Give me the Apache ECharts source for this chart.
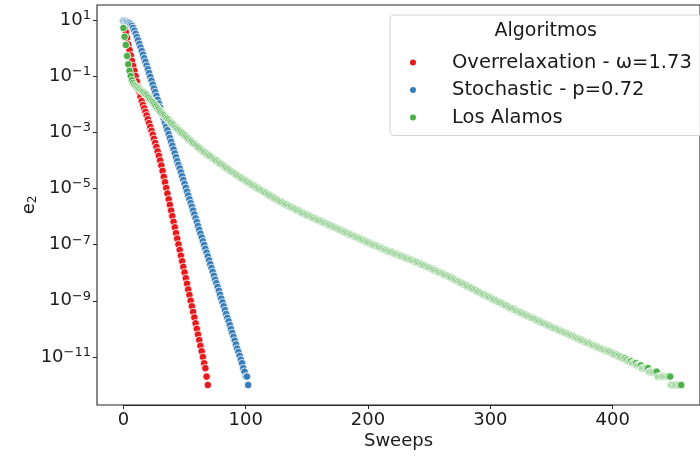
<!DOCTYPE html>
<html><head><meta charset="utf-8">
<script src="https://cdn.jsdelivr.net/npm/echarts@6/dist/echarts.min.js"></script>
<style>html,body{margin:0;padding:0;background:#fff}#c{width:700px;height:457px}</style>
</head><body><div id="c"></div>
<script>
// x: sweep index (0-based); y: log10(e2)
const seriesNames = ['Overrelaxation - ω=1.73', 'Stochastic - p=0.72', 'Los Alamos'];
const seriesColors = ['#e41a1c', '#377eb8', '#4daf4a'];
const legendTitle = 'Algoritmos';
const xAxisTitle = 'Sweeps';
const xTickMin = 0, xTickMax = 400, xTickStep = 100;
const yTickMinExp = -11, yTickMaxExp = 1, yTickStepExp = 2;
const yViewMinExp = -12.711, yViewMaxExp = 1.534;

const overrelaxationLog10E2 = [
0.962,0.736,0.570,0.355,0.129,-0.067,-0.262,-0.458,-0.634,-0.811,
-0.997,-1.193,-1.389,-1.555,-1.731,-1.888,-2.025,-2.143,-2.270,-2.397,
-2.535,-2.672,-2.809,-2.946,-3.083,-3.230,-3.377,-3.524,-3.680,-3.837,
-4.003,-4.180,-4.375,-4.581,-4.777,-4.983,-5.179,-5.384,-5.580,-5.786,
-5.982,-6.187,-6.383,-6.589,-6.785,-6.990,-7.186,-7.392,-7.588,-7.793,
-7.989,-8.195,-8.391,-8.596,-8.792,-8.998,-9.194,-9.399,-9.595,-9.801,
-9.997,-10.203,-10.398,-10.604,-10.796,-11.000,-11.222,-11.398,-11.699,-12.000];

const stochasticLog10E2 = [
0.962,0.962,0.952,0.932,0.913,0.883,0.844,0.795,0.717,0.619,
0.511,0.394,0.276,0.149,0.022,-0.106,-0.233,-0.360,-0.488,-0.625,
-0.752,-0.889,-1.026,-1.163,-1.301,-1.438,-1.565,-1.702,-1.839,-1.976,
-2.113,-2.250,-2.388,-2.525,-2.662,-2.799,-2.926,-3.063,-3.200,-3.337,
-3.475,-3.612,-3.749,-3.886,-4.023,-4.160,-4.287,-4.424,-4.562,-4.699,
-4.836,-4.973,-5.110,-5.247,-5.384,-5.521,-5.649,-5.786,-5.923,-6.060,
-6.197,-6.334,-6.471,-6.609,-6.746,-6.883,-7.010,-7.147,-7.284,-7.421,
-7.558,-7.695,-7.832,-7.970,-8.107,-8.244,-8.371,-8.508,-8.645,-8.782,
-8.919,-9.057,-9.194,-9.331,-9.468,-9.605,-9.732,-9.869,-10.006,-10.144,
-10.281,-10.418,-10.553,-10.699,-10.824,-10.959,-11.097,-11.222,-11.398,-11.523,
-11.699,-11.699,-12.000];

const losAlamosLog10E2 = [
0.717,0.403,0.110,-0.282,-0.576,-0.811,-0.997,-1.144,-1.242,-1.310,
-1.359,-1.398,-1.438,-1.467,-1.506,-1.536,-1.565,-1.604,-1.643,-1.682,
-1.731,-1.780,-1.829,-1.878,-1.927,-1.976,-2.035,-2.084,-2.143,-2.192,
-2.250,-2.299,-2.348,-2.388,-2.437,-2.486,-2.525,-2.574,-2.623,-2.662,
-2.711,-2.750,-2.799,-2.838,-2.877,-2.916,-2.956,-2.995,-3.034,-3.073,
-3.112,-3.151,-3.191,-3.230,-3.269,-3.308,-3.337,-3.377,-3.416,-3.455,
-3.484,-3.523,-3.563,-3.602,-3.631,-3.670,-3.700,-3.729,-3.768,-3.798,
-3.827,-3.856,-3.886,-3.925,-3.954,-3.984,-4.013,-4.042,-4.082,-4.111,
-4.140,-4.170,-4.199,-4.229,-4.268,-4.297,-4.327,-4.356,-4.385,-4.415,
-4.444,-4.473,-4.503,-4.532,-4.561,-4.591,-4.620,-4.649,-4.679,-4.698,
-4.728,-4.757,-4.786,-4.806,-4.835,-4.865,-4.894,-4.914,-4.943,-4.973,
-4.992,-5.022,-5.051,-5.071,-5.100,-5.129,-5.149,-5.178,-5.208,-5.227,
-5.257,-5.286,-5.306,-5.335,-5.355,-5.384,-5.404,-5.433,-5.453,-5.482,
-5.502,-5.531,-5.551,-5.570,-5.600,-5.619,-5.639,-5.659,-5.688,-5.708,
-5.727,-5.747,-5.776,-5.796,-5.815,-5.835,-5.864,-5.884,-5.904,-5.923,
-5.943,-5.962,-5.982,-6.001,-6.021,-6.041,-6.060,-6.080,-6.099,-6.119,
-6.138,-6.158,-6.178,-6.197,-6.217,-6.236,-6.256,-6.275,-6.295,-6.315,
-6.334,-6.354,-6.373,-6.393,-6.412,-6.432,-6.452,-6.471,-6.491,-6.510,
-6.530,-6.549,-6.569,-6.589,-6.608,-6.628,-6.647,-6.667,-6.687,-6.706,
-6.726,-6.745,-6.765,-6.785,-6.804,-6.824,-6.843,-6.863,-6.883,-6.902,
-6.922,-6.941,-6.961,-6.980,-7.000,-7.010,-7.030,-7.049,-7.069,-7.088,
-7.108,-7.127,-7.147,-7.167,-7.186,-7.196,-7.216,-7.235,-7.255,-7.265,
-7.284,-7.304,-7.323,-7.333,-7.353,-7.372,-7.392,-7.402,-7.421,-7.441,
-7.460,-7.470,-7.490,-7.509,-7.529,-7.539,-7.558,-7.578,-7.598,-7.607,
-7.627,-7.646,-7.666,-7.686,-7.705,-7.725,-7.744,-7.764,-7.784,-7.803,
-7.823,-7.842,-7.862,-7.881,-7.901,-7.921,-7.940,-7.960,-7.979,-7.999,
-8.018,-8.038,-8.058,-8.077,-8.097,-8.116,-8.136,-8.156,-8.175,-8.205,
-8.224,-8.244,-8.273,-8.293,-8.312,-8.332,-8.361,-8.381,-8.401,-8.430,
-8.450,-8.469,-8.499,-8.518,-8.538,-8.557,-8.587,-8.606,-8.626,-8.655,
-8.675,-8.695,-8.724,-8.744,-8.763,-8.783,-8.812,-8.832,-8.851,-8.871,
-8.890,-8.920,-8.939,-8.959,-8.978,-9.008,-9.027,-9.047,-9.066,-9.086,
-9.115,-9.135,-9.154,-9.174,-9.194,-9.223,-9.243,-9.262,-9.282,-9.301,
-9.331,-9.350,-9.370,-9.389,-9.409,-9.428,-9.448,-9.468,-9.487,-9.507,
-9.526,-9.546,-9.565,-9.585,-9.605,-9.624,-9.644,-9.663,-9.693,-9.712,
-9.732,-9.751,-9.771,-9.791,-9.810,-9.830,-9.849,-9.869,-9.889,-9.908,
-9.929,-9.948,-9.967,-9.986,-10.006,-10.025,-10.044,-10.063,-10.082,-10.102,
-10.121,-10.140,-10.159,-10.178,-10.198,-10.217,-10.236,-10.255,-10.274,-10.293,
-10.313,-10.332,-10.351,-10.370,-10.389,-10.409,-10.428,-10.447,-10.466,-10.485,
-10.505,-10.524,-10.543,-10.562,-10.581,-10.601,-10.620,-10.639,-10.658,-10.677,
-10.697,-10.716,-10.735,-10.754,-10.773,-10.790,-10.800,-10.810,-10.824,-10.854,
-10.886,-10.886,-10.921,-10.921,-10.959,-10.959,-11.000,-11.000,-11.046,-11.046,
-11.046,-11.097,-11.097,-11.155,-11.155,-11.155,-11.222,-11.222,-11.222,-11.222,
-11.301,-11.301,-11.301,-11.301,-11.398,-11.398,-11.398,-11.398,-11.398,-11.398,
-11.523,-11.523,-11.523,-11.523,-11.523,-11.523,-11.523,-11.699,-11.699,-11.699,
-11.699,-11.699,-11.699,-11.699,-11.699,-11.699,-11.699,-11.699,-12.000,-12.000,
-12.000,-12.000,-12.000,-12.000,-12.000,-12.000,-12.000];

const seriesValues = [overrelaxationLog10E2, stochasticLog10E2, losAlamosLog10E2];

const FONT = 'DejaVu Sans';
const INK = '#1a1a1a';
const FRAME = '#262626';

function expLabel(v) {
  const n = Math.round(v);
  const t = n < 0 ? '\u2212' + (-n) : String(n);
  return '{b|10}{s|' + t + '}';
}

const hiddenAxis = {axisLine: {show: false}, axisTick: {show: false}, axisLabel: {show: false}, splitLine: {show: false}};

const chart = echarts.init(document.getElementById('c'), null, {renderer: 'canvas'});
chart.setOption({
  animation: false,
  backgroundColor: '#ffffff',
  grid: [
    // frame
    {left: 97, top: 5, width: 615, height: 400, show: true, borderColor: FRAME, borderWidth: 1.1, backgroundColor: 'transparent'},
    // data + x ticks (sweeps 0..400)
    {left: 123.4, top: 5, width: 489.3, height: 400, show: false},
    // y ticks (10^-11 .. 10^1)
    {left: 97, top: 20, width: 615, height: 336.96, show: false}
  ],
  xAxis: [
    Object.assign({gridIndex: 0, type: 'value', min: 0, max: 1,
      name: xAxisTitle, nameLocation: 'middle', nameGap: 27,
      nameTextStyle: {fontFamily: FONT, fontSize: 18, color: INK}}, hiddenAxis),
    {gridIndex: 1, type: 'value', position: 'bottom', min: xTickMin, max: xTickMax, interval: xTickStep,
     axisLine: {show: true, onZero: false, lineStyle: {color: FRAME, width: 1.1}}, splitLine: {show: false},
     axisTick: {show: true, inside: false, length: 4, lineStyle: {color: FRAME, width: 1}},
     axisLabel: {fontFamily: FONT, fontSize: 18, color: INK, margin: 6}},
    Object.assign({gridIndex: 2, type: 'value', min: 0, max: 1}, hiddenAxis)
  ],
  yAxis: [
    Object.assign({gridIndex: 0, type: 'value', min: 0, max: 1,
      name: '{e|e}{s|2}', nameLocation: 'middle', nameGap: 58, nameRotate: 90,
      nameTextStyle: {fontFamily: FONT, color: INK,
        rich: {e: {fontFamily: FONT, fontSize: 18, color: INK},
               s: {fontFamily: FONT, fontSize: 12, color: INK, padding: [7, 0, 0, 0]}}}}, hiddenAxis),
    Object.assign({gridIndex: 1, type: 'value', min: yViewMinExp, max: yViewMaxExp}, hiddenAxis),
    {gridIndex: 2, type: 'value', min: yTickMinExp, max: yTickMaxExp, interval: yTickStepExp,
     axisLine: {show: false}, splitLine: {show: false},
     axisTick: {show: true, length: 4, lineStyle: {color: FRAME, width: 1}},
     axisLabel: {margin: 6, formatter: expLabel,
       rich: {b: {fontFamily: FONT, fontSize: 18, color: INK},
              s: {fontFamily: FONT, fontSize: 13, color: INK, padding: [0, 0, 9, 0]}}}}
  ],
  legend: {
    orient: 'vertical', left: 390, top: 15,
    padding: [37.5, 14, 8, 18],
    itemWidth: 20, itemHeight: 8, itemGap: 7.5,
    icon: 'circle',
    backgroundColor: 'rgba(255,255,255,0.85)', borderColor: '#d4d4d4', borderWidth: 1, borderRadius: 4,
    textStyle: {fontFamily: FONT, fontSize: 19.5, color: INK, padding: [0, 0, 0, 24]},
    data: seriesNames
  },
  graphic: [{type: 'text', z: 100, x: 545.7, y: 31,
    style: {text: legendTitle, font: '19px "DejaVu Sans"', fill: INK, align: 'center', verticalAlign: 'middle'}}],
  series: seriesNames.map((name, i) => ({
    type: 'scatter', name: name, xAxisIndex: 1, yAxisIndex: 1, clip: false,
    symbol: 'circle', symbolSize: 7.5,
    itemStyle: {color: seriesColors[i], borderColor: '#ffffff', borderWidth: 0.8, opacity: 1},
    emphasis: {disabled: true},
    data: seriesValues[i].map((v, k) => [k, v])
  }))
});
</script></body></html>
